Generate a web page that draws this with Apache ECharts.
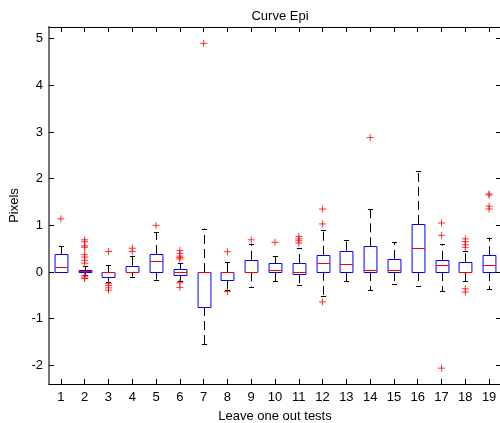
<!DOCTYPE html>
<html>
<head>
<meta charset="utf-8">
<script src="https://cdn.jsdelivr.net/npm/echarts@6/dist/echarts.min.js"></script>
<style>
  html, body { margin: 0; padding: 0; background: #fff; }
  #chart { width: 500px; height: 423px; }
</style>
</head>
<body>
<div id="chart"></div>
<script>
// leave one out tests
var categories = ['1', '2', '3', '4', '5', '6', '7', '8', '9', '10',
    '11', '12', '13', '14', '15', '16', '17', '18', '19'];
var whiskerLow = [0, -0.06, -0.21, -0.10, -0.165, -0.20, -1.54, -0.39, -0.33, -0.20,
    -0.27, -0.52, -0.20, -0.39, -0.26, -0.29, -0.41, -0.20, -0.365];
var q1 = [0, -0.01, -0.10, 0, 0, -0.06, -0.75, -0.17, -0.01, 0,
    -0.05, 0.005, 0, 0, 0, 0, 0, 0, 0];
var median = [0.107, 0.02, 0, 0, 0.23, 0, 0, 0, 0.005, 0.035,
    0.005, 0.19, 0.17, 0.035, 0.035, 0.51, 0.15, 0, 0.15];
var q3 = [0.386, 0.04, 0, 0.135, 0.386, 0.064, 0, 0, 0.26, 0.19,
    0.19, 0.37, 0.46, 0.55, 0.28, 1.03, 0.26, 0.21, 0.36];
var whiskerHigh = [0.55, 0.12, 0.14, 0.35, 0.85, 0.19, 0.93, 0.21, 0.61, 0.335,
    0.51, 0.90, 0.68, 1.35, 0.635, 2.17, 0.60, 0.46, 0.735];
var outliers = [
    [1.14],
    [0.69, 0.65, 0.56, 0.53, 0.37, 0.32, 0.25, 0.19, -0.08, -0.11, -0.14],
    [0.44, -0.25, -0.29, -0.34, -0.39],
    [0.51, 0.44],
    [1.0],
    [0.46, 0.40, 0.34, 0.31, 0.28, -0.23, -0.33],
    [4.9],
    [0.435, -0.42],
    [0.69],
    [0.635],
    [0.76, 0.71, 0.67, 0.62],
    [1.35, 1.03, -0.64],
    [],
    [2.88],
    [],
    [],
    [1.05, 0.785, -2.06],
    [0.71, 0.65, 0.585, 0.53, -0.36, -0.43],
    [1.67, 1.65, 1.41, 1.35]
];
var yMin = -2.4, yMax = 5.25;

var boxData = categories.map(function(c, i) {
    return [i, whiskerLow[i], q1[i], median[i], q3[i], whiskerHigh[i]];
});
var outlierData = [];
outliers.forEach(function(list, i) {
    list.forEach(function(v) { outlierData.push([i, v]); });
});

var font = 'Arial, "Liberation Sans", Helvetica, sans-serif';

function crisp(v) { return Math.round(v) + 0.5; }

function renderBox(params, api) {
    var idx = api.value(0);
    var band = api.size([1, 0])[0];
    var half = band * 0.27;
    var capHalf = band * 0.11;
    var x = crisp(api.coord([idx, 0])[0]);
    var yLo = api.coord([idx, api.value(1)])[1];
    var yQ1 = api.coord([idx, api.value(2)])[1];
    var yMed = api.coord([idx, api.value(3)])[1];
    var yQ3 = api.coord([idx, api.value(4)])[1];
    var yHi = api.coord([idx, api.value(5)])[1];
    var dash = { stroke: '#000', lineWidth: 1, lineDash: [9, 5] };
    var solid = { stroke: '#000', lineWidth: 1 };
    var children = [];
    if (Math.abs(yHi - yQ3) > 0.5) {
        children.push({ type: 'line', shape: { x1: x, y1: yQ3, x2: x, y2: yHi }, style: dash });
    }
    if (Math.abs(yLo - yQ1) > 0.5) {
        children.push({ type: 'line', shape: { x1: x, y1: yQ1, x2: x, y2: yLo }, style: dash });
    }
    children.push(
        { type: 'line', shape: { x1: x - capHalf, y1: crisp(yHi), x2: x + capHalf, y2: crisp(yHi) }, style: solid },
        { type: 'line', shape: { x1: x - capHalf, y1: crisp(yLo), x2: x + capHalf, y2: crisp(yLo) }, style: solid },
        {
            type: 'rect',
            shape: { x: x - half, y: crisp(yQ3), width: half * 2, height: Math.max(crisp(yQ1) - crisp(yQ3), 1) },
            style: { fill: 'none', stroke: '#0000ff', lineWidth: 1 }
        },
        { type: 'line', shape: { x1: x - half, y1: crisp(yMed), x2: x + half, y2: crisp(yMed) }, style: { stroke: '#ff0000', lineWidth: 1 } }
    );
    return { type: 'group', children: children };
}

var axisLineX = { show: true, onZero: false, lineStyle: { color: '#000', width: 1 } };
var axisLineY = { show: true, onZero: false, lineStyle: { color: '#777', width: 2 } };
var tickStyle = { show: true, inside: true, length: 5, lineStyle: { color: '#000' } };

var chart = echarts.init(document.getElementById('chart'));
var option = {
    animation: false,
    backgroundColor: '#fff',
    title: {
        text: 'Curve Epi',
        left: 275,
        textAlign: 'center',
        top: 5,
        textStyle: { fontFamily: font, fontSize: 13, fontWeight: 'normal', color: '#000' }
    },
    grid: { left: 49, top: 27, width: 452, height: 357, outerBoundsMode: 'none', containLabel: false },
    xAxis: [{
        type: 'category',
        data: categories,
        position: 'bottom',
        name: 'Leave one out tests',
        nameLocation: 'middle',
        nameGap: 26,
        nameTextStyle: { fontFamily: font, fontSize: 13, color: '#000' },
        axisLine: axisLineX,
        axisTick: Object.assign({ alignWithLabel: true }, tickStyle),
        axisLabel: { fontFamily: font, fontSize: 13, color: '#000', margin: 7, interval: 0 },
        splitLine: { show: false }
    }, {
        type: 'category',
        data: categories,
        position: 'top',
        axisLine: axisLineX,
        axisTick: Object.assign({ alignWithLabel: true }, tickStyle),
        axisLabel: { show: false },
        splitLine: { show: false }
    }],
    yAxis: [{
        type: 'value',
        min: yMin,
        max: yMax,
        splitNumber: 7,
        position: 'left',
        name: 'Pixels',
        nameLocation: 'middle',
        nameGap: 21,
        nameTextStyle: { fontFamily: font, fontSize: 13, color: '#000' },
        axisLine: axisLineY,
        axisTick: tickStyle,
        axisLabel: { fontFamily: font, fontSize: 13, color: '#000', margin: 6, showMinLabel: false, showMaxLabel: false },
        splitLine: { show: false }
    }, {
        type: 'value',
        min: yMin,
        max: yMax,
        splitNumber: 7,
        position: 'right',
        axisLine: axisLineY,
        axisTick: tickStyle,
        axisLabel: { show: false },
        splitLine: { show: false }
    }],
    series: [{
        type: 'custom',
        renderItem: renderBox,
        data: boxData,
        encode: { x: 0, y: [1, 2, 3, 4, 5] },
        z: 2
    }, {
        type: 'scatter',
        data: outlierData,
        symbol: 'path://M0,4L8,4M4,0L4,8',
        symbolSize: 7,
        itemStyle: { color: 'none', borderColor: '#ff0000', borderWidth: 1 },
        z: 3
    }]
};
chart.setOption(option);
</script>
</body>
</html>
